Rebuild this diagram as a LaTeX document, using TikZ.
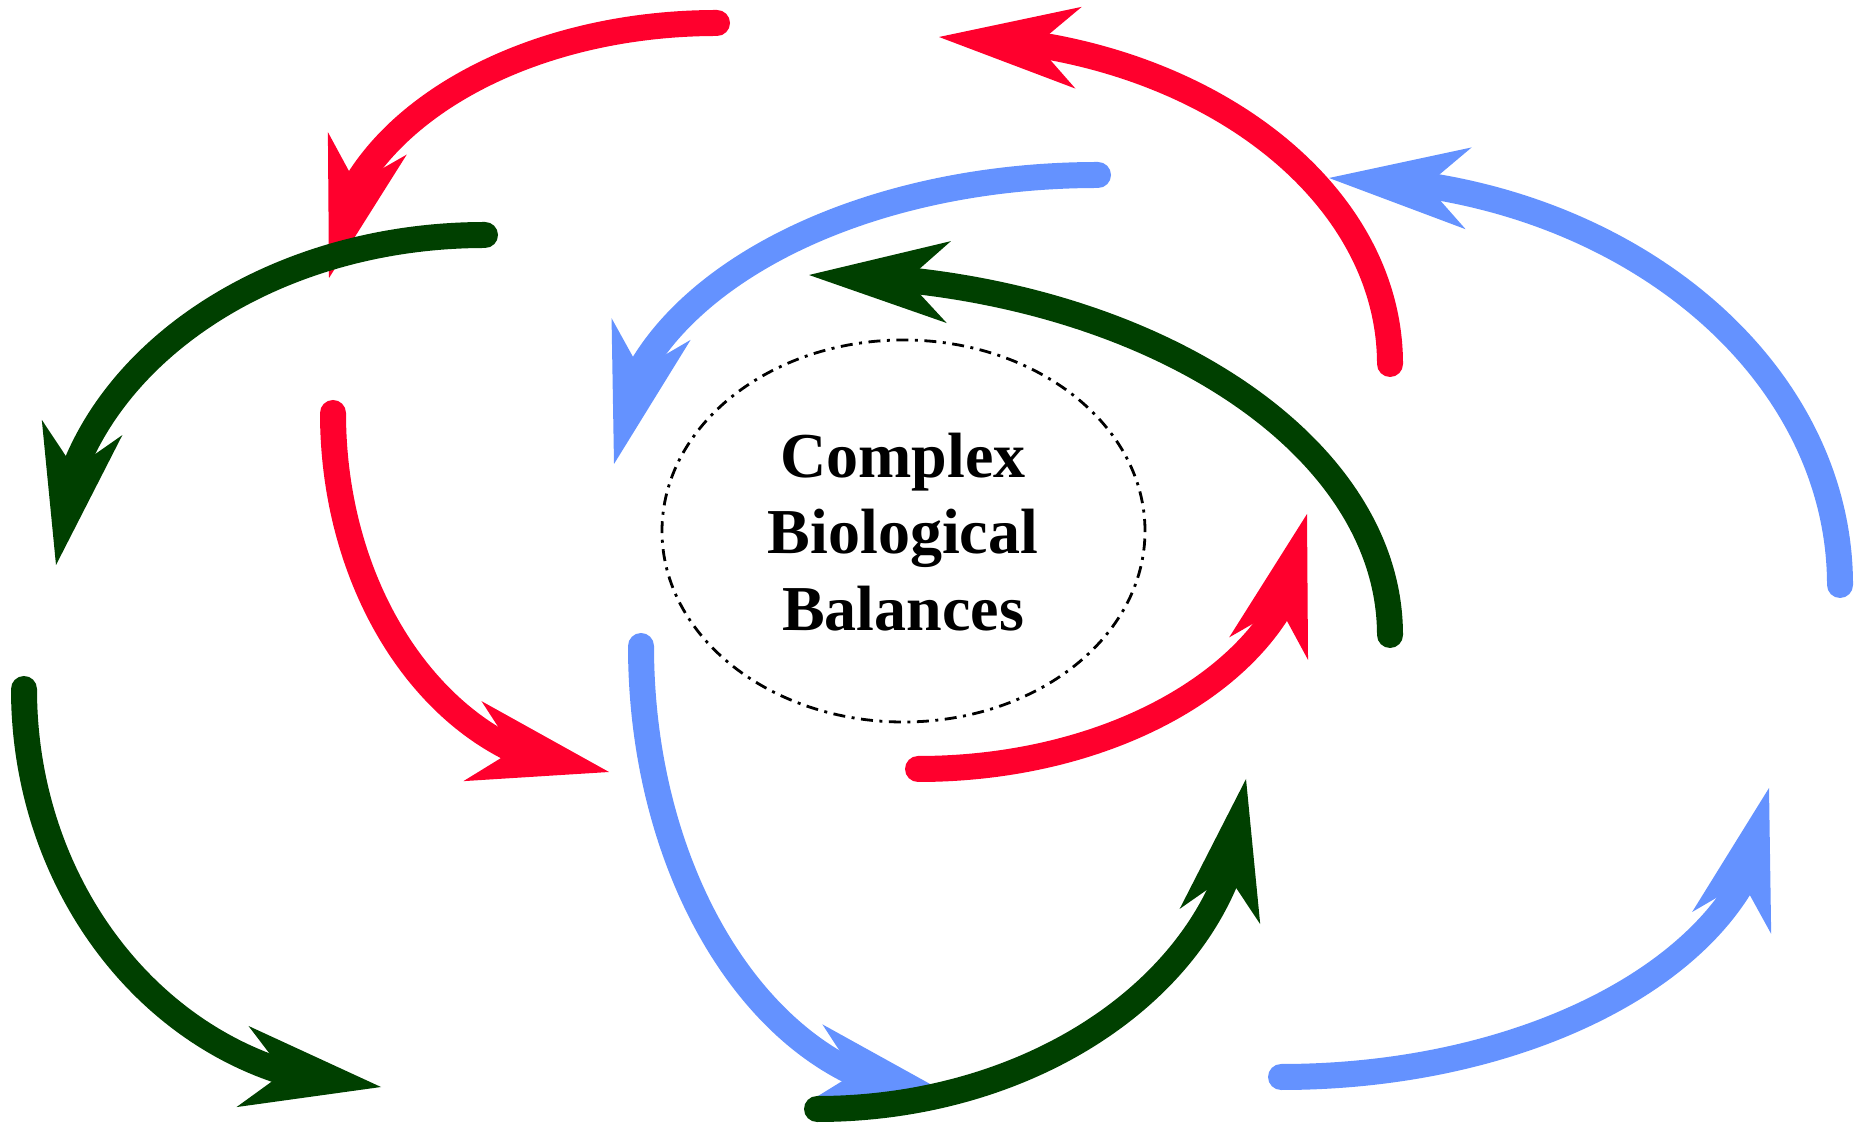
\documentclass[tikz,border=0pt]{standalone}
\usepackage{fontspec}
\setmainfont{Liberation Serif}
\usetikzlibrary{arrows.meta,bending}
\definecolor{cred}{RGB}{255,0,45}
\definecolor{cblue}{RGB}{100,146,255}
\definecolor{cgreen}{RGB}{0,64,0}
\begin{document}
\begin{tikzpicture}[x=1pt,y=1pt,
  cyc/.style={line width=26pt, line cap=round,
    -{Stealth[flex, length=140pt, width=82pt, inset=42pt, line width=0pt]}},
  lbl/.style={anchor=base, inner sep=0pt, font=\fontsize{64}{76}\selectfont\bfseries}]
\useasboundingbox (0,0) rectangle (1867,1124);
% red cycle
\coordinate (r1) at (717,1101);
\coordinate (r2) at (1390,760);
\coordinate (r3) at (333,711);
\coordinate (r4) at (918,355);
\draw[cyc, cred] (r1) arc[start angle=90, end angle=180, x radius=388pt, y radius=255pt];
\draw[cyc, cred] (r2) arc[start angle=0, end angle=90, x radius=451pt, y radius=327pt];
\draw[cyc, cred] (r3) arc[start angle=180, end angle=270, x radius=276pt, y radius=359pt];
\draw[cyc, cred] (r4) arc[start angle=270, end angle=360, x radius=389pt, y radius=255pt];
% blue cycle
\coordinate (b1) at (1098,949);
\coordinate (b2) at (1840,539);
\coordinate (b3) at (641,478);
\coordinate (b4) at (1281,47);
\draw[cyc, cblue] (b1) arc[start angle=90, end angle=180, x radius=484pt, y radius=289pt];
\draw[cyc, cblue] (b2) arc[start angle=0, end angle=90, x radius=511pt, y radius=407pt];
\draw[cyc, cblue] (b3) arc[start angle=180, end angle=270, x radius=309pt, y radius=449pt];
\draw[cyc, cblue] (b4) arc[start angle=270, end angle=360, x radius=488pt, y radius=289pt];
% green cycle
\coordinate (g1) at (485,889);
\coordinate (g2) at (1390,489);
\coordinate (g3) at (24,435);
\coordinate (g4) at (817,15);
\draw[cyc, cgreen] (g1) arc[start angle=90, end angle=180, x radius=429pt, y radius=330pt];
\draw[cyc, cgreen] (g2) arc[start angle=0, end angle=90, x radius=581pt, y radius=360pt];
\draw[cyc, cgreen] (g3) arc[start angle=180, end angle=270, x radius=357pt, y radius=398pt];
\draw[cyc, cgreen] (g4) arc[start angle=270, end angle=360, x radius=429pt, y radius=330pt];
% centre
\draw[line width=2.8pt, dash pattern=on 12pt off 6.5pt on 3pt off 6.5pt] (903.5,593) ellipse[x radius=241.5pt, y radius=191pt];
\node[lbl] (t1) at (903,646) {Complex};
\node[lbl] (t2) at (903,570) {Biological};
\node[lbl] (t3) at (903,493) {Balances};
\end{tikzpicture}
\end{document}
